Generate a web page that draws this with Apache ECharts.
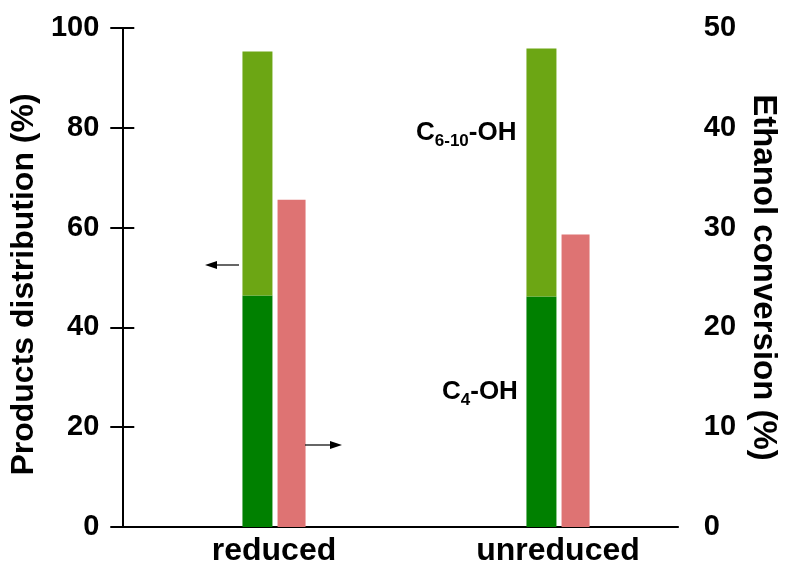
<!DOCTYPE html>
<html>
<head>
<meta charset="utf-8">
<script src="https://cdn.jsdelivr.net/npm/echarts@6/dist/echarts.min.js"></script>
<style>
  html, body { margin: 0; padding: 0; background: #fff; }
  #chart { width: 788px; height: 568px; }
</style>
</head>
<body>
<div id="chart"></div>
<script>
// Catalyst states on the category axis
const categories = ['reduced', 'unreduced'];
// Products distribution (%), stacked
const c4OH = [46.4, 46.2];
const c610OH = [48.9, 49.7];
// Ethanol conversion (%), right axis
const conversion = [32.8, 29.3];
// Axis tick values
const leftTicks = [0, 20, 40, 60, 80, 100];
const rightTicks = [0, 10, 20, 30, 40, 50];

const FONT = '"Liberation Sans", Arial, Helvetica, sans-serif';
const chart = echarts.init(document.getElementById('chart'), null, { renderer: 'canvas' });

const frameLine = { show: true, lineStyle: { color: '#000', width: 2 } };

const option = {
  animation: false,
  backgroundColor: '#fff',
  textStyle: { fontFamily: FONT },
  grid: [
    // frame and visible axes
    { left: 120, right: 99, top: 28, bottom: 41 },
    // bars
    { left: 132, right: 88, top: 28, bottom: 41 }
  ],
  xAxis: [
    { type: 'value', gridIndex: 0, min: 0, max: 1, position: 'bottom',
      axisLine: frameLine, axisTick: { show: false }, axisLabel: { show: false }, splitLine: { show: false } },
    { type: 'value', gridIndex: 0, min: 0, max: 1, position: 'top',
      axisLine: frameLine, axisTick: { show: false }, axisLabel: { show: false }, splitLine: { show: false } },
    { type: 'category', gridIndex: 1, data: categories,
      axisLine: { show: false }, axisTick: { show: false }, splitLine: { show: false },
      axisLabel: { color: '#000', fontSize: 32, fontWeight: 'bold', fontFamily: FONT, margin: 8 } }
  ],
  yAxis: [
    { type: 'value', gridIndex: 0, position: 'left',
      min: leftTicks[0], max: leftTicks[leftTicks.length - 1], interval: leftTicks[1] - leftTicks[0],
      name: 'Products distribution (%)', nameLocation: 'middle', nameRotate: 90, nameGap: 70,
      nameTextStyle: { color: '#000', fontSize: 32, fontWeight: 'bold', fontFamily: FONT, padding: [0, 14, 0, 0] },
      axisLine: frameLine, axisTick: { show: true, length: 12, lineStyle: { color: '#000', width: 2 } },
      axisLabel: { color: '#000', fontSize: 29, fontWeight: 'bold', fontFamily: FONT, margin: 23 },
      splitLine: { show: false } },
    { type: 'value', gridIndex: 0, position: 'right',
      min: rightTicks[0], max: rightTicks[rightTicks.length - 1], interval: rightTicks[1] - rightTicks[0],
      name: 'Ethanol conversion (%)', nameLocation: 'middle', nameRotate: -90, nameGap: 69,
      nameTextStyle: { color: '#000', fontSize: 33, fontWeight: 'bold', fontFamily: FONT },
      axisLine: frameLine, axisTick: { show: true, length: 12, lineStyle: { color: '#000', width: 2 } },
      axisLabel: { color: '#000', fontSize: 29, fontWeight: 'bold', fontFamily: FONT, margin: 26 },
      splitLine: { show: false } },
    { type: 'value', gridIndex: 1, show: false,
      min: leftTicks[0], max: leftTicks[leftTicks.length - 1] },
    { type: 'value', gridIndex: 1, show: false,
      min: rightTicks[0], max: rightTicks[rightTicks.length - 1] }
  ],
  series: [
    { name: 'C4-OH', type: 'bar', xAxisIndex: 2, yAxisIndex: 2, stack: 'products',
      data: c4OH, barWidth: 30, barGap: '17%', itemStyle: { color: '#008000' } },
    { name: 'C6-10-OH', type: 'bar', xAxisIndex: 2, yAxisIndex: 2, stack: 'products',
      data: c610OH, barWidth: 30, barGap: '17%', itemStyle: { color: '#6ca614' } },
    { name: 'Ethanol conversion', type: 'bar', xAxisIndex: 2, yAxisIndex: 3,
      data: conversion, barWidth: 28, barGap: '17%', itemStyle: { color: '#de7373' } }
  ],
  graphic: [
    // product labels with subscripts
    { type: 'text', x: 416, y: 133, z: 10,
      style: {
        text: '{m|C}{s|6-10}{m|-OH}', align: 'left', verticalAlign: 'middle',
        rich: {
          m: { fontSize: 26, fontWeight: 'bold', fontFamily: FONT, fill: '#000', lineHeight: 34 },
          s: { fontSize: 17, fontWeight: 'bold', fontFamily: FONT, fill: '#000', lineHeight: 17, verticalAlign: 'bottom' }
        }
      } },
    { type: 'text', x: 442, y: 392, z: 10,
      style: {
        text: '{m|C}{s|4}{m|-OH}', align: 'left', verticalAlign: 'middle',
        rich: {
          m: { fontSize: 26, fontWeight: 'bold', fontFamily: FONT, fill: '#000', lineHeight: 34 },
          s: { fontSize: 17, fontWeight: 'bold', fontFamily: FONT, fill: '#000', lineHeight: 17, verticalAlign: 'bottom' }
        }
      } },
    // arrow pointing to the left axis
    { type: 'line', z: 10, shape: { x1: 239, y1: 265, x2: 214, y2: 265 },
      style: { stroke: '#000', lineWidth: 1.2 } },
    { type: 'polygon', z: 10, shape: { points: [[205, 265], [217, 261], [217, 269]] },
      style: { fill: '#000' } },
    // arrow pointing to the right axis
    { type: 'line', z: 10, shape: { x1: 305, y1: 445, x2: 332, y2: 445 },
      style: { stroke: '#000', lineWidth: 1.2 } },
    { type: 'polygon', z: 10, shape: { points: [[342, 445], [330, 441], [330, 449]] },
      style: { fill: '#000' } }
  ]
};

chart.setOption(option);
</script>
</body>
</html>
